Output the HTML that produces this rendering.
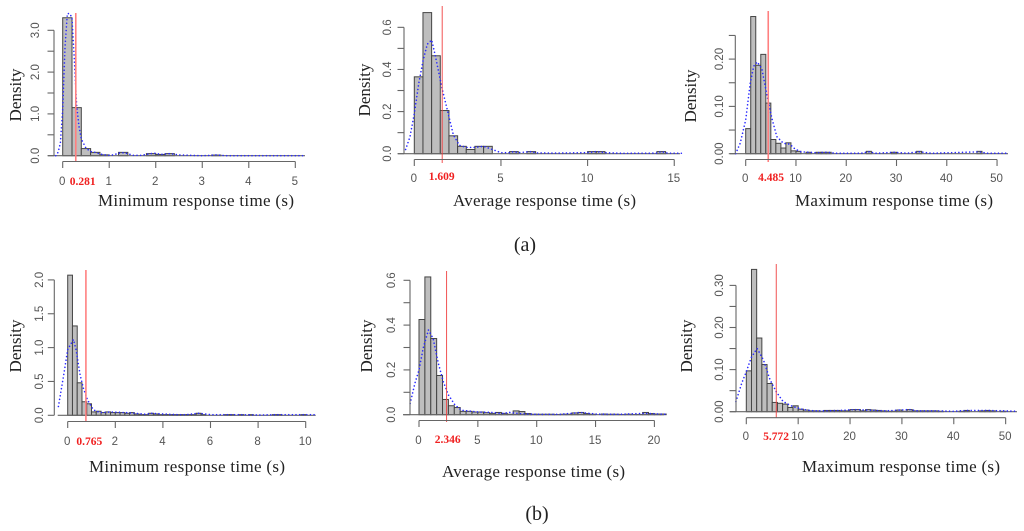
<!DOCTYPE html>
<html lang="en">
<head>
<meta charset="utf-8">
<title>Response time histograms</title>
<style>
html,body{margin:0;padding:0;background:#fff;}
svg{display:block;filter:blur(0.35px);}
.axis-title{font-family:"Liberation Serif",serif;font-size:17px;fill:#222;}
.caption{font-family:"Liberation Serif",serif;font-size:20px;fill:#222;}
.mean-label{font-family:"Liberation Serif",serif;font-size:11.5px;font-weight:bold;fill:#f02020;text-anchor:middle;}
.tick-label{font-family:"Liberation Sans",sans-serif;font-size:11.5px;fill:#555;text-anchor:middle;}
</style>
</head>
<body>
<svg id="chart" width="1024" height="531" viewBox="0 0 1024 531" xmlns="http://www.w3.org/2000/svg">
  <g id="a-min"></g>
  <g id="a-avg"></g>
  <g id="a-max"></g>
  <g id="b-min"></g>
  <g id="b-avg"></g>
  <g id="b-max"></g>

  <text class="axis-title" x="98" y="206" textLength="196" lengthAdjust="spacing">Minimum response time (s)</text>
  <text class="axis-title" x="453" y="206" textLength="183" lengthAdjust="spacing">Average response time (s)</text>
  <text class="axis-title" x="795" y="206" textLength="198" lengthAdjust="spacing">Maximum response time (s)</text>
  <text class="axis-title" x="89" y="472" textLength="196" lengthAdjust="spacing">Minimum response time (s)</text>
  <text class="axis-title" x="442" y="477" textLength="183" lengthAdjust="spacing">Average response time (s)</text>
  <text class="axis-title" x="802" y="472" textLength="198" lengthAdjust="spacing">Maximum response time (s)</text>

  <text class="axis-title" transform="translate(21,95) rotate(-90)" text-anchor="middle">Density</text>
  <text class="axis-title" transform="translate(370,90) rotate(-90)" text-anchor="middle">Density</text>
  <text class="axis-title" transform="translate(696,96) rotate(-90)" text-anchor="middle">Density</text>
  <text class="axis-title" transform="translate(21,346) rotate(-90)" text-anchor="middle">Density</text>
  <text class="axis-title" transform="translate(372,346) rotate(-90)" text-anchor="middle">Density</text>
  <text class="axis-title" transform="translate(692,346) rotate(-90)" text-anchor="middle">Density</text>

  <text class="mean-label" x="82.7" y="185">0.281</text>
  <text class="mean-label" x="441.7" y="180">1.609</text>
  <text class="mean-label" x="771" y="181">4.485</text>
  <text class="mean-label" x="89.3" y="445">0.765</text>
  <text class="mean-label" x="447.7" y="443">2.346</text>
  <text class="mean-label" x="776" y="440">5.772</text>

  <text class="caption" x="525" y="251" text-anchor="middle">(a)</text>
  <text class="caption" x="537" y="520" text-anchor="middle">(b)</text>
</svg>

<script>
// ---------- Panel (a) minimum ----------
const aMinBins = [3.3,1.15,0.17,0.08,0.02,0,0.08,0,0,0.05,0.03,0.05,0,0,0,0,0.015,0,0,0,0,0,0,0,0,0];
const aMinKdeX = [-0.15,-0.1,-0.05,0,0.05,0.1,0.15,0.2,0.25,0.3,0.35,0.4,0.5,0.6,0.7,0.8,0.9,1,1.1,1.2,1.3,1.4,1.5,1.7,1.9,2,2.1,2.3,2.5,3,3.2,3.3,3.5,4,5.2];
const aMinKdeY = [0,0.08,0.3,1.1,2.6,3.4,3.4,3.3,2.3,1.2,0.7,0.4,0.18,0.1,0.08,0.04,0.02,0.01,0.02,0.06,0.07,0.05,0.01,0.01,0.05,0.06,0.03,0.05,0.02,0,0.01,0.02,0,0,0];
const aMinMean = 0.281;
const aMinXTicks = [0,1,2,3,4,5];
const aMinYTicks = [0,0.5,1,1.5,2,2.5,3];
const aMinYLabels = ['0.0','','1.0','','2.0','','3.0'];

// ---------- Panel (a) average ----------
const aAvgBins = [0.365,0.67,0.465,0.205,0.085,0.035,0.02,0.035,0.035,0,0,0.01,0,0.01,0,0,0,0,0,0,0.01,0.01,0,0,0,0,0,0,0.01,0];
const aAvgKdeX = [-0.5,-0.25,0,0.25,0.5,0.75,1,1.2,1.6,1.9,2.25,2.6,3,3.5,4,4.5,5,5.5,5.75,6,6.75,7,8,10,10.5,11,12,14,14.25,14.6,15.5];
const aAvgKdeY = [0.02,0.08,0.19,0.33,0.44,0.52,0.54,0.47,0.31,0.21,0.09,0.04,0.03,0.03,0.035,0.02,0.005,0.005,0.01,0.005,0.01,0.004,0.003,0.005,0.01,0.005,0.002,0.003,0.01,0.003,0.002];
const aAvgMean = 1.609;
const aAvgXTicks = [0,5,10,15];
const aAvgYTicks = [0,0.1,0.2,0.3,0.4,0.5,0.6];
const aAvgYLabels = ['0.0','','0.2','','0.4','','0.6'];

// ---------- Panel (a) maximum ----------
const aMaxBins = [0.053,0.29,0.187,0.21,0.107,0.03,0.022,0.012,0.023,0.006,0.005,0,0.003,0,0.003,0.003,0.003,0,0,0,0,0,0,0,0.005,0,0,0,0,0.003,0,0,0,0,0.005,0,0,0,0,0,0,0,0,0,0,0,0.005,0,0,0];
const aMaxKdeX = [-2,-1.1,0,0.9,1.6,2.3,3.2,4.3,5.2,6.2,7.5,8.8,9.8,11,12.5,14,16,18,23,24.5,26,29.5,32,34.5,37,46.5,48,52];
const aMaxKdeY = [0,0.022,0.071,0.149,0.185,0.194,0.18,0.12,0.075,0.036,0.022,0.02,0.01,0.004,0.003,0.002,0.003,0.001,0.001,0.004,0.001,0.003,0.001,0.004,0.001,0.004,0.001,0.001];
const aMaxMean = 4.485;
const aMaxXTicks = [0,10,20,30,40,50];
const aMaxYTicks = [0,0.05,0.1,0.15,0.2,0.25];
const aMaxYLabels = ['0.00','','0.10','','0.20',''];

// ---------- Panel (b) minimum ----------
const bMinBins = [2.07,1.32,0.48,0.2,0.17,0.05,0.06,0.04,0.05,0.04,0.04,0.04,0.03,0.04,0.02,0.01,0.01,0.03,0.02,0.01,0.01,0.01,0.01,0.01,0.01,0.01,0.01,0.03,0.01,0,0,0,0,0.01,0.01,0,0.01,0,0.01,0,0,0,0,0.01,0.01,0,0,0,0,0.01,0,0];
const bMinKdeX = [-0.39,-0.18,0,0.24,0.35,0.52,0.66,0.83,1.08,1.36,1.8,2.4,2.8,3.3,3.5,4,4.6,5,5.5,6,7,8,9,10.4];
const bMinKdeY = [0.13,0.57,0.97,1.12,0.97,0.6,0.4,0.23,0.08,0.04,0.05,0.04,0.03,0.015,0.03,0.02,0.01,0.01,0.03,0.01,0.01,0.005,0.01,0.01];
const bMinMean = 0.765;
const bMinXTicks = [0,2,4,6,8,10];
const bMinYTicks = [0,0.5,1,1.5,2];
const bMinYLabels = ['0.0','0.5','1.0','1.5','2.0'];

// ---------- Panel (b) average ----------
const bAvgBins = [0.425,0.615,0.34,0.175,0.068,0.04,0.032,0.015,0.015,0.012,0.012,0.009,0.006,0.01,0.006,0.002,0.017,0.014,0.005,0.002,0.002,0.002,0.002,0.001,0.002,0.002,0.008,0.01,0.005,0.002,0,0.003,0.002,0.002,0.001,0.002,0.001,0.001,0.01,0.005,0.003,0.003];
const bAvgKdeX = [-0.75,-0.35,0,0.37,0.8,1.2,1.64,2.07,2.5,3.06,3.6,5,6.3,7,7.7,8.5,10,12,13,13.7,15,17,19.2,21];
const bAvgKdeY = [0.05,0.14,0.2,0.3,0.378,0.34,0.23,0.147,0.088,0.043,0.02,0.012,0.01,0.005,0.01,0.005,0.002,0.002,0.006,0.01,0.003,0.002,0.006,0.002];
const bAvgMean = 2.346;
const bAvgXTicks = [0,5,10,15,20];
const bAvgYTicks = [0,0.1,0.2,0.3,0.4,0.5,0.6];
const bAvgYLabels = ['0.0','','0.2','','0.4','','0.6'];

// ---------- Panel (b) maximum ----------
const bMaxBins = [0.097,0.338,0.175,0.112,0.067,0.022,0.02,0.018,0.01,0.014,0.006,0.004,0.002,0.002,0.001,0.003,0.003,0.003,0.002,0.002,0.005,0.005,0.002,0.005,0.004,0.003,0.002,0.001,0.001,0.004,0.001,0.005,0.002,0.002,0.002,0.002,0.002,0.001,0,0,0,0.001,0.003,0,0,0.002,0.003,0.002,0,0.001,0,0];
const bMaxKdeX = [-2,-0.9,0,1,2.1,3.3,4.6,5.8,7.1,9,11,13,15,18,21,23,25,27,29.5,31.5,33,37,40,42.5,46.5,50,52];
const bMaxKdeY = [0.024,0.067,0.095,0.13,0.15,0.123,0.075,0.047,0.024,0.012,0.005,0.002,0.002,0.003,0.005,0.004,0.003,0.002,0.004,0.005,0.002,0.002,0.001,0.003,0.003,0.002,0.001];
const bMaxMean = 5.772;
const bMaxXTicks = [0,10,20,30,40,50];
const bMaxYTicks = [0,0.05,0.1,0.15,0.2,0.25,0.3];
const bMaxYLabels = ['0.00','','0.10','','0.20','','0.30'];

const NS = 'http://www.w3.org/2000/svg';

function el(parent, tag, attrs) {
  const n = document.createElementNS(NS, tag);
  for (const k in attrs) n.setAttribute(k, attrs[k]);
  parent.appendChild(n);
  return n;
}

function drawPanel(p) {
  const g = document.getElementById(p.id);
  const xScale = v => p.x0 + v * p.xPerUnit;
  const yScale = v => p.base - v * p.yPerUnit;

  // bars
  const barsG = el(g, 'g', {fill: '#bebebe', stroke: '#444', 'stroke-width': 1});
  
  
  p.bins.forEach((v, i) => {
    const left = xScale(i * p.binWidth);
    const right = xScale((i + 1) * p.binWidth);
    const bar = el(barsG, 'rect', {x: left, y: yScale(v), width: right - left, height: p.base - yScale(v)});
    
    
  });

  // baseline
  const baseLine = el(g, 'line', {x1: p.baseFrom, x2: p.baseTo, y1: p.base, y2: p.base, stroke: '#666', 'stroke-width': 1.1});
  
  

  // kde
  const pts = p.kdeX.map((x, i) => xScale(x).toFixed(2) + ',' + yScale(p.kdeY[i]).toFixed(2)).join(' ');
  const kde = el(g, 'polyline', {points: pts, fill: 'none', stroke: '#2a2aff', 'stroke-width': 1.6, 'stroke-dasharray': '0.01 3.6', 'stroke-linecap': 'round'});
  
  

  // mean line
  const mean = el(g, 'line', {x1: xScale(p.mean), x2: xScale(p.mean), y1: p.meanTop, y2: p.meanBottom, stroke: p.meanColor, 'stroke-width': p.meanWidth});
  
  

  // x axis
  const xAxis = el(g, 'g', {stroke: '#666', 'stroke-width': 1.1});
  
  
  el(xAxis, 'line', {x1: xScale(p.xTicks[0]), x2: xScale(p.xTicks[p.xTicks.length - 1]), y1: p.xAxisY, y2: p.xAxisY});
  p.xTicks.forEach(t => {
    el(xAxis, 'line', {x1: xScale(t), x2: xScale(t), y1: p.xAxisY, y2: p.xAxisY + 6.5});
    const lab = el(g, 'text', {x: xScale(t) - 0.5, y: p.xLabelY, class: 'tick-label'});
    
    
    lab.textContent = String(t);
  });

  // y axis
  const yAxis = el(g, 'g', {stroke: '#666', 'stroke-width': 1.1});
  
  
  el(yAxis, 'line', {x1: p.yAxisX, x2: p.yAxisX, y1: yScale(p.yTicks[0]), y2: yScale(p.yTicks[p.yTicks.length - 1])});
  p.yTicks.forEach((t, i) => {
    el(yAxis, 'line', {x1: p.yAxisX - 6.5, x2: p.yAxisX, y1: yScale(t), y2: yScale(t)});
    if (p.yLabels[i]) {
      const lab = el(g, 'text', {class: 'tick-label', transform: 'translate(' + (p.yLabelX + 4) + ',' + yScale(t) + ') rotate(-90)'});
      
      
      lab.textContent = p.yLabels[i];
    }
  });
}

drawPanel({id:'a-min', bins:aMinBins, binWidth:0.2, kdeX:aMinKdeX, kdeY:aMinKdeY, mean:aMinMean, xTicks:aMinXTicks, yTicks:aMinYTicks, yLabels:aMinYLabels,
  x0:62.7, xPerUnit:46.52, base:155.7, yPerUnit:41.8, baseFrom:48, baseTo:305, xAxisY:161.5, xLabelY:185, yAxisX:54, yLabelX:35, meanTop:13, meanBottom:162, meanColor:'#ff8080', meanWidth:1.6});
drawPanel({id:'a-avg', bins:aAvgBins, binWidth:0.5, kdeX:aAvgKdeX, kdeY:aAvgKdeY, mean:aAvgMean, xTicks:aAvgXTicks, yTicks:aAvgYTicks, yLabels:aAvgYLabels,
  x0:414.3, xPerUnit:17.33, base:153.7, yPerUnit:210.6, baseFrom:398, baseTo:680, xAxisY:159.5, xLabelY:182, yAxisX:404, yLabelX:387, meanTop:6, meanBottom:163, meanColor:'#f04040', meanWidth:0.9});
drawPanel({id:'a-max', bins:aMaxBins, binWidth:1, kdeX:aMaxKdeX, kdeY:aMaxKdeY, mean:aMaxMean, xTicks:aMaxXTicks, yTicks:aMaxYTicks, yLabels:aMaxYLabels,
  x0:745.7, xPerUnit:5.027, base:153.7, yPerUnit:473, baseFrom:730, baseTo:1008, xAxisY:159.5, xLabelY:182, yAxisX:735.3, yLabelX:719, meanTop:11, meanBottom:162, meanColor:'#ff8080', meanWidth:1.6});
drawPanel({id:'b-min', bins:bMinBins, binWidth:0.2, kdeX:bMinKdeX, kdeY:bMinKdeY, mean:bMinMean, xTicks:bMinXTicks, yTicks:bMinYTicks, yLabels:bMinYLabels,
  x0:67.7, xPerUnit:23.8, base:415.3, yPerUnit:67.7, baseFrom:57.7, baseTo:315.7, xAxisY:421.5, xLabelY:445, yAxisX:54.3, yLabelX:39, meanTop:270, meanBottom:422, meanColor:'#ff8080', meanWidth:1.6});
drawPanel({id:'b-avg', bins:bAvgBins, binWidth:0.5, kdeX:bAvgKdeX, kdeY:bAvgKdeY, mean:bAvgMean, xTicks:bAvgXTicks, yTicks:bAvgYTicks, yLabels:bAvgYLabels,
  x0:419, xPerUnit:11.77, base:414.7, yPerUnit:224, baseFrom:403, baseTo:664, xAxisY:420.5, xLabelY:444, yAxisX:410, yLabelX:391, meanTop:271, meanBottom:422, meanColor:'#f04040', meanWidth:0.9});
drawPanel({id:'b-max', bins:bMaxBins, binWidth:1, kdeX:bMaxKdeX, kdeY:bMaxKdeY, mean:bMaxMean, xTicks:bMaxXTicks, yTicks:bMaxYTicks, yLabels:bMaxYLabels,
  x0:746.3, xPerUnit:5.187, base:411.7, yPerUnit:421, baseFrom:730, baseTo:1017, xAxisY:417.7, xLabelY:440, yAxisX:736, yLabelX:719, meanTop:264, meanBottom:418, meanColor:'#f04040', meanWidth:0.9});
</script>
</body>
</html>
